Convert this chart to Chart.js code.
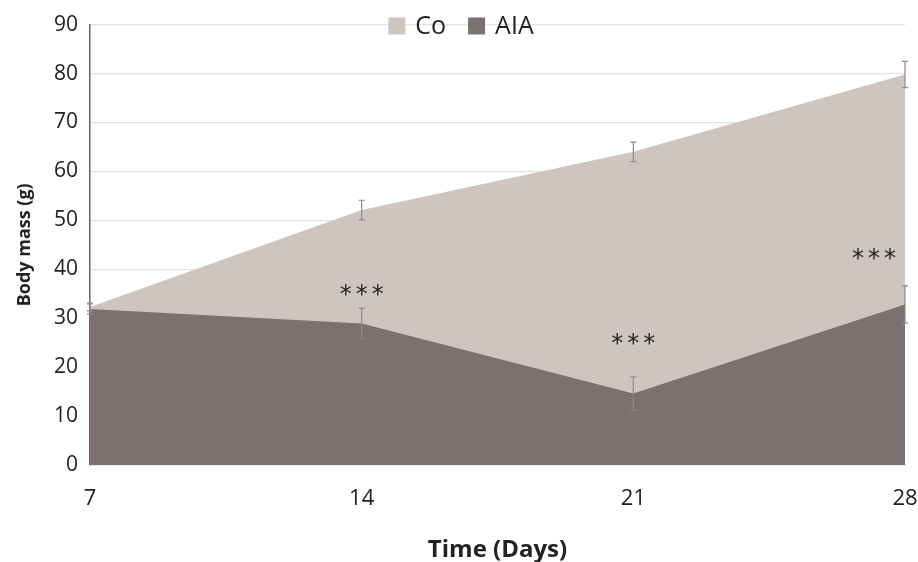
<!DOCTYPE html>
<html>
<head>
<meta charset="utf-8">
<script src="https://cdn.jsdelivr.net/npm/chart.js@4/dist/chart.umd.min.js"></script>
<style>
  body { margin: 0; background: #fff; }
</style>
</head>
<body>
<canvas id="chart" width="918" height="562"></canvas>
<script>
const days = [7, 14, 21, 28];
const coMass = [32.3, 52.1, 64, 79.8];
const coErr = [0.8, 2, 2, 2.7];
const aiaMass = [31.9, 28.9, 14.6, 32.8];
const aiaErr = [1, 3.1, 3.4, 3.8];
const starX = [14, 21, 27.2];
const starY = [35.6, 25.6, 43];
const starText = ['***', '***', '***'];

const toPoints = (xs, ys) => xs.map((x, i) => ({ x: x, y: ys[i] }));

const extras = {
  id: 'extras',
  afterDatasetsDraw(chart) {
    const ctx = chart.ctx;
    const xs = chart.scales.x, ys = chart.scales.y;
    ctx.save();
    ctx.strokeStyle = '#8f8a89';
    ctx.lineWidth = 1.2;
    chart.data.datasets.forEach(ds => {
      ds.data.forEach((p, i) => {
        const e = ds.errors[i];
        const px = xs.getPixelForValue(p.x);
        const top = ys.getPixelForValue(p.y + e);
        const bot = ys.getPixelForValue(p.y - e);
        ctx.beginPath();
        ctx.moveTo(px, top); ctx.lineTo(px, bot);
        ctx.moveTo(px - 3, top); ctx.lineTo(px + 3, top);
        ctx.moveTo(px - 3, bot); ctx.lineTo(px + 3, bot);
        ctx.stroke();
      });
    });
    // significance stars
    ctx.fillStyle = '#222';
    ctx.font = '24px "DejaVu Sans", sans-serif';
    ctx.letterSpacing = '4px';
    ctx.textAlign = 'center';
    ctx.textBaseline = 'middle';
    starX.forEach((x, i) => {
      ctx.fillText(starText[i], xs.getPixelForValue(x) + 2, ys.getPixelForValue(starY[i]) + 5);
    });
    ctx.letterSpacing = '0px';

    // legend, top centre over the plot
    ctx.font = '25px "Open Sans", sans-serif';
    ctx.textAlign = 'left';
    const box = 17, gap = 10, between = 22;
    const items = chart.data.datasets.map(ds => ({ text: ds.label, color: ds.backgroundColor, w: ctx.measureText(ds.label).width }));
    const total = items.reduce((s, it) => s + box + gap + it.w, 0) + between * (items.length - 1);
    let x = chart.width / 2 - total / 2 + 2;
    const cy = 26;
    items.forEach(it => {
      ctx.fillStyle = it.color;
      ctx.fillRect(x, cy - box / 2, box, box);
      ctx.fillStyle = '#222';
      ctx.fillText(it.text, x + box + gap, cy + 1);
      x += box + gap + it.w + between;
    });
    ctx.restore();
  }
};

new Chart(document.getElementById('chart'), {
  type: 'line',
  data: {
    datasets: [
      {
        label: 'Co',
        data: toPoints(days, coMass),
        errors: coErr,
        backgroundColor: '#cec5c1',
        borderColor: '#cec5c1',
        borderWidth: 0,
        pointRadius: 0,
        fill: 'origin',
        order: 2
      },
      {
        label: 'AIA',
        data: toPoints(days, aiaMass),
        errors: aiaErr,
        backgroundColor: '#7b7170',
        borderColor: '#7b7170',
        borderWidth: 0,
        pointRadius: 0,
        fill: 'origin',
        order: 1
      }
    ]
  },
  options: {
    responsive: false,
    animation: false,
    layout: { padding: { left: 12, right: 13, top: 12, bottom: -3 } },
    plugins: {
      tooltip: { enabled: false },
      legend: { display: false }
    },
    scales: {
      x: {
        type: 'linear',
        min: 7,
        max: 28,
        afterBuildTicks: s => { s.ticks = days.map(v => ({ value: v })); },
        afterFit: s => { s.height = 100; s.paddingRight = 0; s.paddingLeft = 0; },
        grid: { display: false, drawTicks: false },
        border: { color: '#d9d9d9', width: 1.5 },
        ticks: {
          padding: 21,
          color: '#222',
          font: { family: '"Open Sans", sans-serif', size: 22 }
        },
        title: {
          display: true,
          text: 'Time (Days)',
          color: '#222',
          padding: { top: 0, bottom: 0 },
          font: { family: '"Open Sans", sans-serif', size: 24, weight: 'bold' }
        }
      },
      y: {
        min: 0,
        max: 90,
        afterFit: s => { s.width = 78; },
        ticks: {
          stepSize: 10,
          padding: 12,
          color: '#222',
          font: { family: '"Open Sans", sans-serif', size: 21 }
        },
        grid: { color: '#e3e3e3', lineWidth: 1.2, drawTicks: false },
        border: { color: '#666', width: 1.5 },
        title: {
          display: true,
          text: 'Body mass (g)',
          color: '#222',
          padding: { top: 2, bottom: 0 },
          font: { family: '"Open Sans", sans-serif', size: 18, weight: 'bold' }
        }
      }
    }
  },
  plugins: [extras]
});
</script>
</body>
</html>
